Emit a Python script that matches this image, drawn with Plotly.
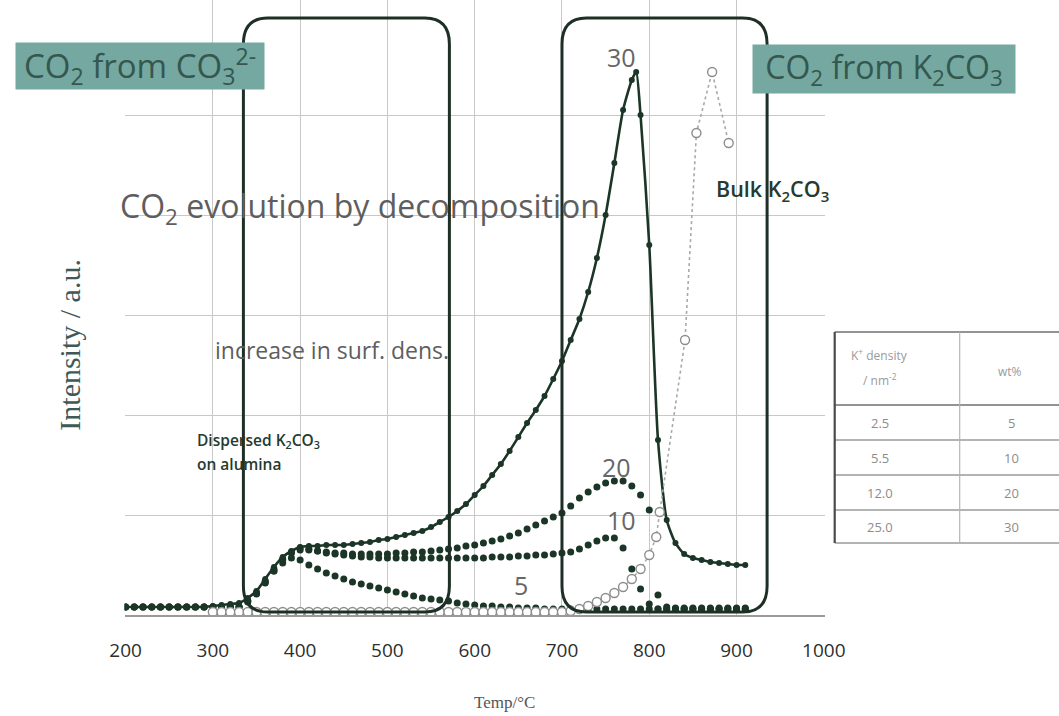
import plotly.graph_objects as go

# ---------------------------------------------------------------------------
# CO2-TPD profiles of K2CO3 supported on alumina (30, 20, 10, 5 wt%) and bulk K2CO3
# ---------------------------------------------------------------------------
temp_30 = [200, 210, 220, 230, 240, 250, 260, 270, 280, 290, 300, 310, 320, 330, 340,
           350, 360, 370, 380, 390, 400, 410, 420, 430, 440, 450, 460, 470, 480, 490,
           500, 510, 520, 530, 540, 550, 560, 570, 580, 590, 600, 610, 620, 630, 640,
           650, 660, 670, 680, 690, 700, 710, 720, 730, 740, 750, 760, 770, 780, 785,
           790, 800, 810, 820, 830, 840, 850, 860, 870, 880, 890, 900, 910]
int_30 = [0.08, 0.08, 0.08, 0.08, 0.08, 0.08, 0.08, 0.08, 0.08, 0.08, 0.09, 0.10, 0.11, 0.12, 0.17,
          0.24, 0.36, 0.48, 0.58, 0.64, 0.68, 0.69, 0.69, 0.70, 0.70, 0.70, 0.71, 0.72, 0.73, 0.75,
          0.76, 0.78, 0.80, 0.82, 0.84, 0.88, 0.93, 0.98, 1.04, 1.11, 1.20, 1.29, 1.40, 1.51, 1.64,
          1.78, 1.92, 2.05, 2.19, 2.36, 2.54, 2.75, 2.96, 3.23, 3.57, 4.00, 4.52, 5.05, 5.35, 5.43,
          5.00, 3.70, 1.75, 0.95, 0.72, 0.61, 0.57, 0.55, 0.53, 0.52, 0.51, 0.50, 0.50]

temp_20 = [200, 210, 220, 230, 240, 250, 260, 270, 280, 290, 300, 310, 320, 330, 340,
           350, 360, 370, 380, 390, 400, 410, 420, 430, 440, 450, 460, 470, 480, 490,
           500, 510, 520, 530, 540, 550, 560, 570, 580, 590, 600, 610, 620, 630, 640,
           650, 660, 670, 680, 690, 700, 710, 720, 730, 740, 750, 760, 770, 780, 790,
           800, 810, 820, 830, 840, 850, 860, 870, 880, 890, 900, 910]
int_20 = [0.08, 0.08, 0.08, 0.08, 0.08, 0.08, 0.08, 0.08, 0.08, 0.08, 0.08, 0.08, 0.08, 0.08, 0.14,
          0.22, 0.34, 0.46, 0.56, 0.62, 0.65, 0.65, 0.64, 0.63, 0.62, 0.62, 0.61, 0.61, 0.61, 0.61,
          0.61, 0.62, 0.62, 0.63, 0.63, 0.64, 0.65, 0.66, 0.67, 0.69, 0.70, 0.72, 0.74, 0.76, 0.79,
          0.82, 0.86, 0.90, 0.94, 0.98, 1.02, 1.09, 1.17, 1.23, 1.28, 1.32, 1.34, 1.34, 1.29, 1.20,
          1.05, 0.20, 0.08, 0.07, 0.07, 0.07, 0.07, 0.07, 0.07, 0.07, 0.07, 0.07]

temp_10 = temp_20
int_10 = [0.08, 0.08, 0.08, 0.08, 0.08, 0.08, 0.08, 0.08, 0.08, 0.08, 0.08, 0.08, 0.08, 0.08, 0.13,
          0.21, 0.32, 0.44, 0.55, 0.63, 0.67, 0.66, 0.64, 0.62, 0.61, 0.60, 0.59, 0.58, 0.58, 0.57,
          0.57, 0.57, 0.57, 0.57, 0.57, 0.57, 0.57, 0.57, 0.57, 0.57, 0.57, 0.57, 0.58, 0.58, 0.58,
          0.59, 0.59, 0.60, 0.60, 0.61, 0.62, 0.63, 0.66, 0.70, 0.74, 0.77, 0.77, 0.67, 0.46, 0.26,
          0.11, 0.06, 0.06, 0.06, 0.06, 0.06, 0.06, 0.06, 0.06, 0.06, 0.06, 0.06]

temp_5 = temp_20
int_5 = [0.08, 0.08, 0.08, 0.08, 0.08, 0.08, 0.08, 0.08, 0.08, 0.08, 0.08, 0.08, 0.08, 0.08, 0.14,
         0.22, 0.33, 0.44, 0.52, 0.57, 0.55, 0.50, 0.46, 0.42, 0.39, 0.36, 0.33, 0.31, 0.29, 0.27,
         0.25, 0.23, 0.21, 0.19, 0.17, 0.16, 0.15, 0.14, 0.12, 0.11, 0.10, 0.09, 0.09, 0.08, 0.08,
         0.07, 0.07, 0.07, 0.06, 0.06, 0.06, 0.06, 0.06, 0.06, 0.06, 0.06, 0.06, 0.06, 0.06, 0.06,
         0.06, 0.06, 0.06, 0.06, 0.06, 0.06, 0.06, 0.06, 0.06, 0.06, 0.06, 0.06]

temp_bulk = [300, 310, 320, 330, 340, 350, 360, 370, 380, 390, 400, 410, 420, 430, 440,
             450, 460, 470, 480, 490, 500, 510, 520, 530, 540, 550, 560, 570, 580, 590,
             600, 610, 620, 630, 640, 650, 660, 670, 680, 690, 700, 710, 720, 730, 740,
             750, 760, 770, 780, 790, 800, 808, 812, 841, 854, 872, 891]
int_bulk = [0.03, 0.03, 0.03, 0.03, 0.03, 0.03, 0.03, 0.03, 0.03, 0.03, 0.03, 0.03, 0.03, 0.03, 0.03,
            0.03, 0.03, 0.03, 0.03, 0.03, 0.03, 0.03, 0.03, 0.03, 0.03, 0.03, 0.03, 0.03, 0.03, 0.03,
            0.03, 0.03, 0.03, 0.03, 0.03, 0.03, 0.03, 0.03, 0.03, 0.03, 0.03, 0.04, 0.06, 0.09, 0.13,
            0.17, 0.22, 0.28, 0.36, 0.46, 0.60, 0.78, 1.03, 2.75, 4.82, 5.43, 4.72]

x_ticks = [200, 300, 400, 500, 600, 700, 800, 900, 1000]

# Composition table: surface K+ density vs. loading
density_vals = ["2.5", "5.5", "12.0", "25.0"]
loading_vals = ["5", "10", "20", "30"]

# Temperature windows of the two CO2 sources (°C)
low_window = (335, 571)
high_window = (700, 935)

# ---------------------------------------------------------------------------
W, H = 1059, 716
DARK = "#1b3527"
# horizontal extent of the drawing surface in screen pixels
SURF_X0, SURF_W = 15.3, 1023.0


def fx(px):
    return (px - SURF_X0) / SURF_W


def fy(py):
    return 1 - py / H


fig = go.Figure()

dark_dots = dict(mode="markers", marker=dict(size=7, color=DARK), hoverinfo="skip")
fig.add_trace(go.Scatter(x=temp_5, y=int_5, name="5", **dark_dots))
fig.add_trace(go.Scatter(x=temp_10, y=int_10, name="10", **dark_dots))
fig.add_trace(go.Scatter(x=temp_20, y=int_20, name="20", **dark_dots))
fig.add_trace(go.Scatter(
    x=temp_30, y=int_30, name="30", mode="lines+markers",
    line=dict(color=DARK, width=2.6, shape="spline", smoothing=0.6),
    marker=dict(size=6, color=DARK), hoverinfo="skip"))
fig.add_trace(go.Scatter(
    x=temp_bulk, y=int_bulk, name="Bulk", mode="lines+markers",
    line=dict(color="#a9a9a9", width=1.6, dash="dot"),
    marker=dict(size=9, color="white", line=dict(color="#8d8d8d", width=1.4)),
    hoverinfo="skip"))


def rounded_box(x0, x1, y0, y1, rx, ry):
    return (f"M {x0 + rx},{y0} L {x1 - rx},{y0} Q {x1},{y0} {x1},{y0 + ry} "
            f"L {x1},{y1 - ry} Q {x1},{y1} {x1 - rx},{y1} L {x0 + rx},{y1} "
            f"Q {x0},{y1} {x0},{y1 - ry} L {x0},{y0 + ry} Q {x0},{y0} {x0 + rx},{y0} Z")


shapes = []
for lo, hi in (low_window, high_window):
    shapes.append(dict(type="path", xref="x", yref="y",
                       path=rounded_box(lo, hi, 0.03, 5.97, 28, 0.26),
                       line=dict(color="#1e2f26", width=3), layer="above"))

# table frame
tab_x0, tab_mid, tab_x1 = 835, 960, 1065
row_y = [332, 405, 440, 475, 510, 543]
shapes.append(dict(type="rect", xref="paper", yref="paper",
                   x0=fx(tab_x0), x1=fx(tab_x1), y0=fy(row_y[-1]), y1=fy(row_y[0]),
                   fillcolor="white", line=dict(width=0), layer="above"))
for i, yv in enumerate(row_y):
    shapes.append(dict(type="line", xref="paper", yref="paper",
                       x0=fx(tab_x0), x1=fx(tab_x1), y0=fy(yv), y1=fy(yv),
                       line=dict(color="#6f6f6f" if i in (0, 1) else "#9a9a9a", width=1.6)))
shapes.append(dict(type="line", xref="paper", yref="paper",
                   x0=fx(tab_x0), x1=fx(tab_x0), y0=fy(row_y[0]), y1=fy(row_y[-1]),
                   line=dict(color="#4a4a4a", width=2.2)))
shapes.append(dict(type="line", xref="paper", yref="paper",
                   x0=fx(tab_mid), x1=fx(tab_mid), y0=fy(row_y[0]), y1=fy(row_y[-1]),
                   line=dict(color="#b5b5b5", width=1.2)))

annotations = []


def note(text, px, py, size, color, family="Open Sans", xanchor="center", weight=None, **kw):
    font = dict(family=family, size=size, color=color)
    if weight:
        font["weight"] = weight
    annotations.append(dict(text=text, x=fx(px), y=fy(py), xref="paper", yref="paper",
                            showarrow=False, xanchor=xanchor, yanchor="middle",
                            font=font, **kw))


# headline labels on teal background
note("CO<sub>2</sub> from CO<sub>3</sub><sup>2-</sup>", 140, 66, 33, "#35574f",
     bgcolor="#74a8a0", width=246, height=44)
note("CO<sub>2</sub> from K<sub>2</sub>CO<sub>3</sub>", 884, 69, 32, "#35574f",
     bgcolor="#74a8a0", width=260, height=46)

note("CO<sub>2</sub> evolution by decomposition", 118, 208, 32, "#5e5e5e", xanchor="left")
note("increase in surf. dens.", 213, 350, 23, "#5e5e5e", xanchor="left")
note("Dispersed K<sub>2</sub>CO<sub>3</sub>", 195, 440, 15.5, "#263a2e", xanchor="left", weight=600)
note("on alumina", 195, 464, 15.5, "#263a2e", xanchor="left", weight=600)
note("Bulk K<sub>2</sub>CO<sub>3</sub>", 714, 190, 21.5, "#263a2e", xanchor="left", weight=600)

note("30", 622, 57, 25, "#666666")
note("20", 617, 467, 25, "#666666")
note("10", 622, 520, 25, "#666666")
note("5", 521, 585, 25, "#666666")

# table contents
note("K<sup>+</sup> density", 880, 355, 12, "#9a9a9a")
note("/ nm<sup>-2</sup>", 880, 380, 12, "#9a9a9a")
note("wt%", 1010, 372, 12, "#9a9a9a")
for k, (d, w) in enumerate(zip(density_vals, loading_vals)):
    yc = (row_y[k + 1] + row_y[k + 2]) / 2
    note(d, 880, yc, 13, "#8c8c8c")
    note(w, 1012, yc, 13, "#8c8c8c")

# axis titles
note("Temp/°C", 505, 702, 17, "#555555", family="Liberation Serif")
note("Intensity / a.u.", 69, 345, 30, "#3d5a58", family="Liberation Serif", textangle=-90)

fig.update_layout(
    width=W, height=H,
    margin=dict(l=0, r=0, t=0, b=0),
    plot_bgcolor="white", paper_bgcolor="white",
    showlegend=False,
    shapes=shapes, annotations=annotations,
    xaxis=dict(domain=[fx(125), fx(825)], range=[199, 1001], tickvals=x_ticks,
               showgrid=True, gridcolor="#c8c8c8", gridwidth=1,
               showline=True, linecolor="#9a9a9a", linewidth=1.5,
               ticks="outside", ticklen=17, tickcolor="rgba(0,0,0,0)",
               tickfont=dict(family="Open Sans", size=19, color="#2e2e2e"),
               zeroline=False),
    yaxis=dict(domain=[fy(615), 1], range=[0, 6.15], tickvals=[1, 2, 3, 4, 5],
               showticklabels=False, showgrid=True, gridcolor="#c8c8c8", gridwidth=1,
               zeroline=False, showline=False),
)

fig.write_html("out.html")
